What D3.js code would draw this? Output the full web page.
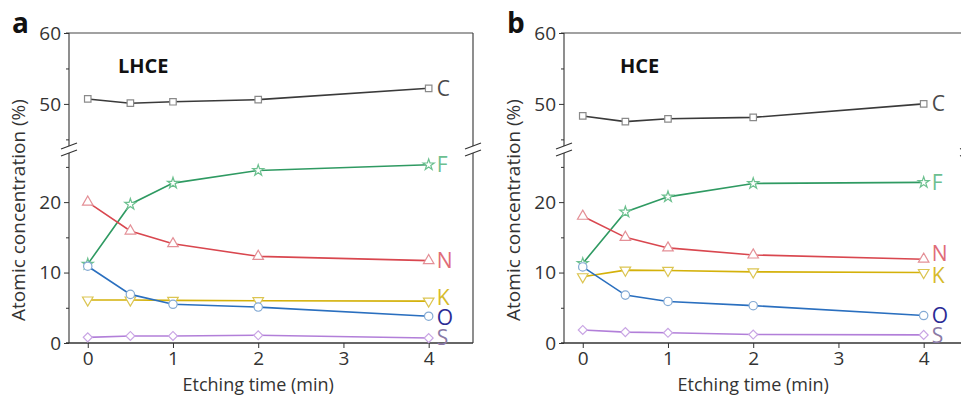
<!DOCTYPE html>
<html>
<head>
<meta charset="utf-8">
<script src="https://cdn.jsdelivr.net/npm/d3@7"></script>
<style>
  html, body { margin: 0; padding: 0; background: #fff; }
  svg text { font-family: "Open Sans", "Noto Sans", sans-serif; }
</style>
</head>
<body>
<div id="chart"></div>
<script>
const times = [0, 0.5, 1, 2, 4];
const elements = ["C", "F", "N", "K", "O", "S"];

// LHCE (panel a)
const lhceC = [50.7, 50.1, 50.3, 50.6, 52.2];
const lhceF = [11.2, 19.7, 22.7, 24.5, 25.3];
const lhceN = [20.0, 15.9, 14.1, 12.3, 11.7];
const lhceK = [6.1, 6.1, 6.05, 6.0, 5.95];
const lhceO = [10.9, 6.9, 5.5, 5.1, 3.8];
const lhceS = [0.8, 1.0, 1.0, 1.1, 0.7];

// HCE (panel b)
const hceC = [48.3, 47.5, 47.9, 48.1, 50.0];
const hceF = [11.3, 18.6, 20.75, 22.65, 22.8];
const hceN = [18.0, 15.0, 13.5, 12.5, 11.9];
const hceK = [9.4, 10.35, 10.3, 10.1, 10.0];
const hceO = [10.8, 6.8, 5.9, 5.3, 3.9];
const hceS = [1.85, 1.55, 1.45, 1.2, 1.15];

const xTicks = [0, 1, 2, 3, 4];
const yTicksLow = [0, 10, 20];
const yMinorLow = [5, 15, 25];
const yTicksHigh = [50, 60];
const yMinorHigh = [45, 55];

const width = 961, height = 401;
const plotTop = 33, plotBottom = 343, breakY = 150;
const plotW = 404;

// styles per element
const styles = {
  C: { line: "#3a3a3a", mark: "#8a8a8a", label: "#4a4a4a", sym: d3.symbolSquare, size: 42, rot: 0 },
  F: { line: "#2f9a62", mark: "#6cc08f", label: "#6cbf90", sym: d3.symbolStar, size: 38, rot: 0 },
  N: { line: "#d9474f", mark: "#e49097", label: "#e06c78", sym: d3.symbolTriangle, size: 48, rot: 0 },
  K: { line: "#d4b10a", mark: "#dcc552", label: "#d6bb2a", sym: d3.symbolTriangle, size: 48, rot: 180 },
  O: { line: "#2a6fbf", mark: "#84aad4", label: "#2b2b95", sym: d3.symbolCircle, size: 55, rot: 0 },
  S: { line: "#b27fd9", mark: "#c9a5e4", label: "#8a7aa6", sym: d3.symbolSquare, size: 40, rot: 45 }
};

const panels = [
  { letter: "a", title: "LHCE", left: 69, data: { C: lhceC, F: lhceF, N: lhceN, K: lhceK, O: lhceO, S: lhceS },
    nudge: { C: 0, F: 0, N: 0, K: -4, O: 1, S: -1 } },
  { letter: "b", title: "HCE", left: 564, data: { C: hceC, F: hceF, N: hceN, K: hceK, O: hceO, S: hceS },
    nudge: { C: 0, F: 0, N: -6, K: 3, O: 0, S: 1 } }
];

const svg = d3.select("#chart").append("svg")
  .attr("width", width)
  .attr("height", height);

// broken y axis: two linear pieces
const yLow = d3.scaleLinear().domain([0, 27.4]).range([plotBottom, breakY]);
const yHigh = d3.scaleLinear().domain([43.5, 60]).range([breakY, plotTop]);
const yPos = v => v >= 40 ? yHigh(v) : yLow(v);

panels.forEach(p => {
  const g = svg.append("g");
  const x = d3.scaleLinear().domain([-0.22, 4.52]).range([p.left, p.left + plotW]);
  const right = p.left + plotW;

  // frame: top and right
  g.append("line").attr("x1", p.left - 3).attr("x2", right).attr("y1", plotTop).attr("y2", plotTop)
    .attr("stroke", "#444").attr("stroke-width", 1.2);
  [p.left, right].forEach(ax => {
    g.append("line").attr("x1", ax).attr("x2", ax).attr("y1", plotTop).attr("y2", breakY - 4)
      .attr("stroke", "#444").attr("stroke-width", 1.2);
    g.append("line").attr("x1", ax).attr("x2", ax).attr("y1", breakY + 3).attr("y2", plotBottom)
      .attr("stroke", "#444").attr("stroke-width", 1.2);
    [-4, 3].forEach(off => {
      g.append("line")
        .attr("x1", ax - 8).attr("y1", breakY + off + 3)
        .attr("x2", ax + 8).attr("y2", breakY + off - 3)
        .attr("stroke", "#333").attr("stroke-width", 1.1);
    });
  });

  // bottom axis
  const xAxis = g.append("g")
    .attr("transform", `translate(0,${plotBottom})`)
    .call(d3.axisBottom(x).tickValues(xTicks).tickFormat(d3.format("d"))
      .tickSize(5).tickSizeOuter(0).tickPadding(4));
  xAxis.select(".domain").attr("stroke", "#333").attr("stroke-width", 1.4)
    .attr("d", `M${p.left - 3},0H${right}`);
  xAxis.selectAll(".tick line").attr("stroke", "#333");
  xAxis.selectAll("text").style("font-size", "19px").attr("fill", "#333");

  // left axis ticks (drawn on both pieces)
  const yAxisLow = g.append("g").attr("transform", `translate(${p.left},0)`)
    .call(d3.axisLeft(yLow).tickValues(yTicksLow).tickSize(5).tickPadding(3));
  const yAxisHigh = g.append("g").attr("transform", `translate(${p.left},0)`)
    .call(d3.axisLeft(yHigh).tickValues(yTicksHigh).tickSize(5).tickPadding(3));
  [yAxisLow, yAxisHigh].forEach(a => {
    a.select(".domain").remove();
    a.selectAll(".tick line").attr("stroke", "#333");
    a.selectAll("text").style("font-size", "19px").attr("fill", "#333");
  });
  g.append("g").attr("transform", `translate(${p.left},0)`)
    .call(d3.axisLeft(yLow).tickValues(yMinorLow).tickSize(3).tickFormat(""))
    .call(a => a.select(".domain").remove())
    .selectAll("line").attr("stroke", "#333");
  g.append("g").attr("transform", `translate(${p.left},0)`)
    .call(d3.axisLeft(yHigh).tickValues(yMinorHigh).tickSize(3).tickFormat(""))
    .call(a => a.select(".domain").remove())
    .selectAll("line").attr("stroke", "#333");

  // titles
  g.append("text").attr("x", p.left - 57).attr("y", 33)
    .text(p.letter).style("font-size", "28px").style("font-weight", "bold").attr("fill", "#111");
  g.append("text").attr("x", p.left + (p.title === "LHCE" ? 49 : 56)).attr("y", 73)
    .text(p.title).style("font-size", "20px").style("font-weight", "bold").attr("fill", "#111");
  g.append("text")
    .attr("transform", `translate(${p.left - 44},${(plotTop + plotBottom) / 2 + 22}) rotate(-90)`)
    .attr("text-anchor", "middle")
    .text("Atomic concentration (%)").style("font-size", "19px").attr("fill", "#333");
  g.append("text").attr("x", x(2)).attr("y", 391).attr("text-anchor", "middle")
    .text("Etching time (min)").style("font-size", "18px").attr("fill", "#333");

  // series
  const line = d3.line().x(d => x(d[0])).y(d => yPos(d[1]));
  elements.forEach(el => {
    const s = styles[el];
    const pts = times.map((t, i) => [t, p.data[el][i]]);
    g.append("path").datum(pts).attr("d", line)
      .attr("fill", "none").attr("stroke", s.line).attr("stroke-width", 1.6);
    g.selectAll(null).data(pts).join("path")
      .attr("d", d3.symbol().type(s.sym).size(s.size))
      .attr("transform", d => `translate(${x(d[0])},${yPos(d[1])}) rotate(${s.rot})`)
      .attr("fill", "#fff").attr("stroke", s.mark).attr("stroke-width", 1.2);
    const last = pts[pts.length - 1];
    g.append("text")
      .attr("x", x(last[0]) + 8)
      .attr("y", yPos(last[1]) + p.nudge[el])
      .attr("dy", "0.36em")
      .text(el).style("font-size", "21px").attr("fill", s.label);
  });
});
</script>
</body>
</html>
